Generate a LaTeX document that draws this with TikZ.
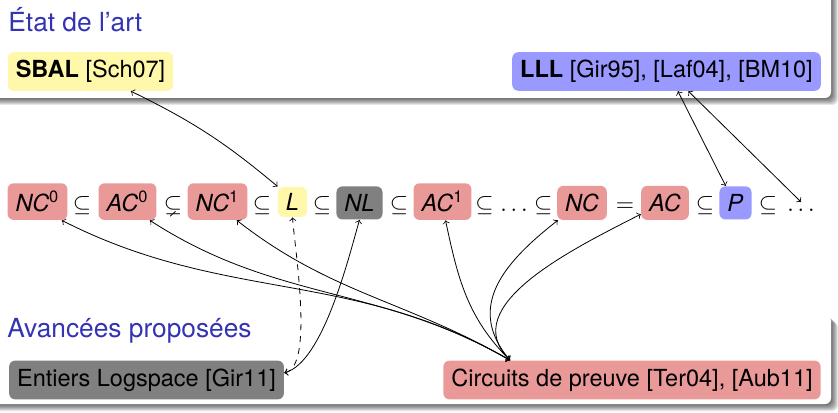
\RequirePackage{fix-cm}
\documentclass[tikz,border=0pt]{standalone}
\usepackage{fontspec}
\setmainfont{TeX Gyre Heros}
\usepackage{amssymb}
\usepackage{amsmath}
\usepackage{tikz}
\usetikzlibrary{calc}
\usetikzlibrary{arrows}
\definecolor{rouge}{RGB}{234,153,153}
\definecolor{jaune}{RGB}{255,247,170}
\definecolor{bleu}{RGB}{153,153,255}
\definecolor{gris}{RGB}{128,128,128}
\definecolor{titre}{RGB}{51,51,179}
\newcommand{\classe}[2]{\textit{#1}\textsuperscript{#2}}
\tikzstyle{every node}=[font=\fontsize{11.75}{14}\selectfont]
\tikzstyle{boite}=[rounded corners=3pt, inner sep=4pt]
\tikzstyle{titrebloc}=[font=\fontsize{13.15}{16}\selectfont, text=titre, anchor=base west, inner sep=0pt]
\tikzstyle{ombre}=[black, opacity=0.1, rounded corners=3pt]

\begin{document}
\begin{tikzpicture}[x=0.5pt, y=0.5pt]
        \useasboundingbox[fill=white] (0, 0) rectangle (838, 412);

        \begin{scope}
            \clip (0, 0) rectangle (838, 412);
            \foreach \i in {1,...,7} {
                \fill [ombre] (-20+\i, 314-\i) rectangle (831+\i, 440-\i);
                \fill [ombre] (-20+\i, 8-\i) rectangle (831+\i, 97-\i);
            }
            \fill [white, rounded corners=3pt] (-20, 314) rectangle (831, 440);
            \fill [white, rounded corners=3pt] (-20, 8) rectangle (831, 97);
        \end{scope}

        \node [titrebloc] (etat) at (8, 380) {État de l'art};
        \node [titrebloc] (avancees) at (7, 75) {Avancées proposées};

        \node [boite, fill=jaune] (sbal) at (90.5, 340.5) {\textbf{SBAL} [Sch07]};
        \node [boite, fill=bleu] (lll) at (666.5, 340.5) {\textbf{LLL} [Gir95], [Laf04], [BM10]};

        \node [boite, fill=rouge, anchor=base] (nc0) at (37.5, 200.5) {\classe{NC}{0}};
        \node [anchor=base] (s1) at (82, 200.5) {$\subseteq$};
        \node [boite, fill=rouge, anchor=base] (ac0) at (127.5, 200.5) {\classe{AC}{0}};
        \node [anchor=base] (s2) at (173, 200.5) {$\subsetneq$};
        \node [boite, fill=rouge, anchor=base] (nc1) at (217.5, 200.5) {\classe{NC}{1}};
        \node [anchor=base] (s3) at (262, 200.5) {$\subseteq$};
        \node [boite, fill=jaune, anchor=base, inner ysep=3.25pt] (l) at (292.5, 201.5) {\textit{L}};
        \node [anchor=base] (s4) at (322, 200.5) {$\subseteq$};
        \node [boite, fill=gris, anchor=base] (nl) at (359.5, 200.5) {\textit{NL}};
        \node [anchor=base] (s5) at (399, 200.5) {$\subseteq$};
        \node [boite, fill=rouge, anchor=base] (ac1) at (442.5, 200.5) {\classe{AC}{1}};
        \node [anchor=base] (s6) at (514, 200.5) {$\subseteq\ldots\subseteq$};
        \node [boite, fill=rouge, anchor=base] (nc) at (582, 200.5) {\textit{NC}};
        \node [anchor=base] (eg) at (625, 200.5) {$=$};
        \node [boite, fill=rouge, anchor=base] (ac) at (665, 200.5) {\textit{AC}};
        \node [anchor=base] (s7) at (705, 200.5) {$\subseteq$};
        \node [boite, fill=bleu, anchor=base] (p) at (735.5, 200.5) {\textit{P}};
        \node [anchor=base] (s8) at (768, 200.5) {$\subseteq$};
        \node [anchor=base] (dots) at (801, 200.5) {$\ldots$};

        \node [boite, fill=gris] (entiers) at (146.5, 32) {Entiers Logspace [Gir11]};
        \node [boite, fill=rouge] (circuits) at (632, 32) {Circuits de preuve [Ter04], [Aub11]};
        \coordinate (hub) at ($(circuits.north)+(-122, 0)$);

        \draw [<->] (sbal.-26) to [bend left=7] (l.north west);
        \draw [<->] (lll.-60) -- (p.120);
        \draw [<->] (lll.-42) -- (dots.north);

        \draw [<->, dashed] (entiers.3) to [out=10, in=-86, looseness=0.5] (l.south);
        \draw [<->] (entiers.3) to [out=15, in=-106, looseness=0.6] (nl.south);

        \draw [<->] (hub) to [out=150, in=-27] ([xshift=-3pt]nc0.south east);
        \draw [<->] (hub) to [out=150, in=-33] ([xshift=-3.5pt]ac0.south east);
        \draw [<->] (hub) to [out=150, in=-38] ([xshift=-5.5pt]nc1.south east);
        \draw [<->] (hub) to [out=135, in=-78] ([xshift=1.5pt]ac1.south);
        \draw [<->] (hub) to [out=130, in=-142, looseness=1.2] ([xshift=0.5pt]nc.south west);
        \draw [<->] (hub) to [out=135, in=-153] (ac.205);
    \end{tikzpicture}
\end{document}
